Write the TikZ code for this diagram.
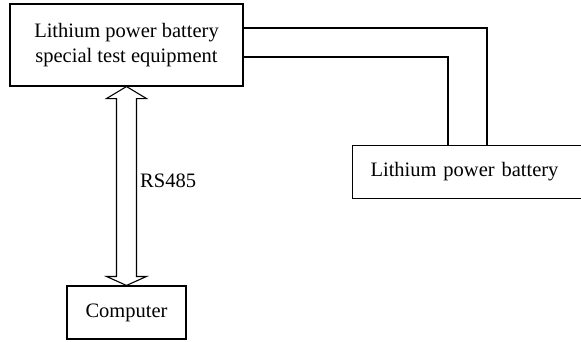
\documentclass[tikz,border=0pt]{standalone}
\usepackage{fontspec}
\setmainfont{Liberation Serif}
\usetikzlibrary{calc}
\begin{document}
\begin{tikzpicture}[x=1pt,y=-1pt,
  every node/.style={font=\fontsize{20.5}{25}\selectfont},
  box/.style={draw, line width=1.1pt, inner sep=0pt},
  wire/.style={draw, line width=1.1pt}]
\useasboundingbox (0,0) rectangle (581,341);
\clip (0,0) rectangle (581,341);
\node[box, minimum width=233pt, minimum height=82pt, align=center] (top) at (126.5,45)
  {Lithium power battery\\special test equipment};
\node[box, minimum width=119pt, minimum height=53pt] (comp) at (126.5,312.5) {Computer};
\node[box, anchor=north west, minimum height=53pt, text width=222pt, inner xsep=18pt, align=left] (bat) at (352,145)
  {Lithium power battery};
\draw[wire] ([yshift=17pt]top.east) -| ([xshift=135pt]bat.north west);
\draw[wire] ([yshift=-12pt]top.east) -| ([xshift=96pt]bat.north west);
\draw[wire, line join=miter]
  (top.south) -- ($(top.south)+(20,12)$) -- ($(top.south)+(10,12)$)
  -- ($(comp.north)+(10,-9)$) -- ($(comp.north)+(20,-9)$) -- (comp.north)
  -- ($(comp.north)+(-20,-9)$) -- ($(comp.north)+(-10,-9)$)
  -- ($(top.south)+(-10,12)$) -- ($(top.south)+(-20,12)$) -- cycle;
\node[anchor=base west, inner sep=0pt] (rs) at (140,187) {RS485};
\end{tikzpicture}
\end{document}
